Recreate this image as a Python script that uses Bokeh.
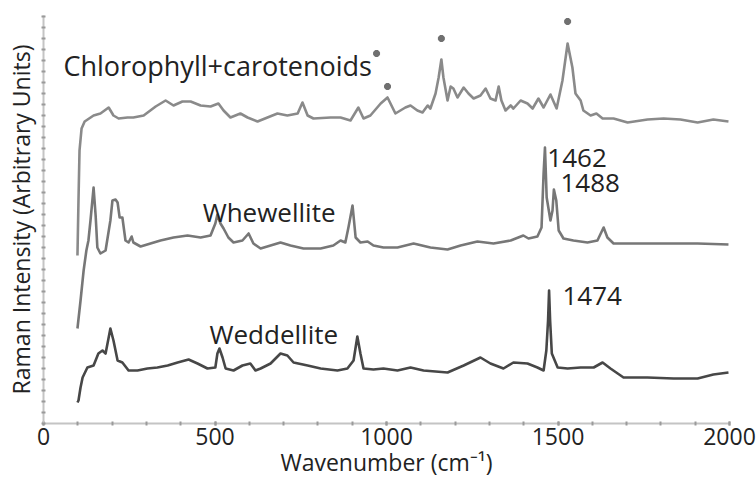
from bokeh.plotting import figure
from bokeh.models import Range1d, FixedTicker, ColumnDataSource
from bokeh.core.properties import value
from bokeh.embed import file_html
from bokeh.resources import INLINE

# Chlorophyll + carotenoids spectrum (wavenumber, arbitrary intensity)
chl_x = [99, 102, 105, 111, 120, 146, 166, 190, 204, 219, 245, 262, 292, 327, 356, 379, 405, 429,
         458, 487, 510, 525, 545, 574, 595, 624, 653, 682, 711, 741, 755, 770, 787, 837, 866, 895,
         918, 933, 953, 983, 1003, 1026, 1055, 1070, 1090, 1105, 1120, 1128, 1143, 1152, 1160, 1166,
         1178, 1187, 1195, 1207, 1225, 1239, 1254, 1274, 1289, 1303, 1318, 1327, 1335, 1347, 1362,
         1370, 1391, 1411, 1426, 1443, 1458, 1478, 1496, 1513, 1528, 1542, 1551, 1566, 1574, 1595,
         1612, 1630, 1662, 1703, 1761, 1808, 1857, 1907, 1953, 1997]
chl_y = [168, 223, 273, 295, 302, 308, 310, 316, 308, 305, 306, 306, 308, 317, 323, 318, 322, 322,
         318, 317, 320, 313, 306, 310, 306, 302, 306, 310, 308, 310, 321, 308, 305, 306, 306, 303,
         316, 305, 308, 320, 326, 310, 316, 318, 313, 311, 318, 315, 330, 346, 364, 346,
         323, 337, 335, 326, 336, 330, 325, 328, 335, 325, 323, 337, 323, 313, 318,
         315, 323, 320, 315, 325, 316, 329, 315, 343, 380, 356, 330, 323, 313, 308,
         310, 305, 305, 301, 304, 305, 304, 301, 304, 302]

# Whewellite spectrum
whe_x = [99, 108, 117, 125, 131, 137, 146, 152, 157, 166, 181, 195, 201, 210, 216, 222, 230, 239,
         248, 257, 262, 283, 312, 341, 379, 420, 458, 487, 501, 507, 516, 525, 539, 554, 580, 598,
         612, 633, 662, 691, 720, 758, 808, 845, 866, 880, 889, 901, 910, 924, 945, 962, 991, 1032,
         1079, 1128, 1178, 1216, 1265, 1312, 1362, 1399, 1414, 1440, 1452, 1458, 1462, 1467, 1478,
         1484, 1488, 1495, 1502, 1516, 1545, 1586, 1615, 1633, 1644, 1662, 1711, 1761, 1857, 1907, 1997]
whe_y = [95, 123, 153, 173, 183, 203, 236, 208, 176, 170, 173, 203, 223, 224, 221, 206, 206, 183,
         181, 187, 181, 177, 180, 183, 186, 188, 186, 188, 200, 209, 200, 195, 186, 181, 183, 190,
         180, 175, 178, 181, 178, 175, 175, 178, 183, 181, 196, 218, 186, 181, 182, 178, 176, 176,
         180, 176, 174, 178, 182, 180, 183, 188, 185, 187, 196, 250, 276, 226, 203,
         213, 234, 223, 193, 185, 183, 181, 183, 196, 186, 180, 180, 180, 180, 180, 179]

# Weddellite spectrum
wed_x = [99, 102, 108, 114, 128, 146, 160, 172, 181, 190, 195, 204, 216, 230, 248, 274, 303, 332,
         362, 391, 423, 449, 478, 501, 507, 513, 522, 531, 554, 580, 603, 618, 633, 662, 691, 711,
         729, 770, 808, 857, 886, 904, 915, 924, 933, 962, 991, 1032, 1070, 1108, 1178, 1225, 1274,
         1303, 1341, 1370, 1411, 1440, 1458, 1466, 1471, 1474, 1477, 1482, 1499, 1528, 1566, 1604,
         1630, 1653, 1691, 1761, 1837, 1907, 1953, 1997]
wed_y = [21, 23, 36, 46, 56, 58, 70, 73, 70, 86, 95, 83, 63, 61, 53, 53, 55, 56,
         58, 61, 64, 60, 55, 56, 70, 75, 66, 55, 53, 58, 60, 53, 55, 60, 70, 68,
         61, 58, 55, 53, 55, 63, 87, 70, 55, 54, 55, 53, 56, 53, 51, 58, 66,
         60, 55, 61, 60, 56, 53, 73, 103, 133, 103, 70, 56, 55, 56, 56,
         61, 55, 46, 46, 45, 45, 49, 51]

# Asterisk markers (carotenoid bands)
star_x = [971, 1003, 1160, 1528]
star_y = [370, 337, 385, 402]

# Text annotations
label_text = ["Chlorophyll+carotenoids", "Whewellite", "Weddellite", "1462", "1488", "1474"]
label_x = [58, 464, 484, 1469, 1507, 1513]
label_y = [358, 212, 90, 266, 241, 128]
label_size = ["27px", "26px", "26px", "26px", "26px", "26px"]

# Axis ticks
x_major = [0, 500, 1000, 1500, 2000]
x_minor = list(range(0, 2001, 100))
y_minor = list(range(0, 409, 11))

FONT = "Open Sans"

p = figure(width=756, height=484, output_backend="svg", toolbar_location=None,
           x_range=Range1d(0, 2000), y_range=Range1d(0, 408),
           min_border_left=43, min_border_right=27, min_border_top=15, min_border_bottom=61)
p.outline_line_color = None
p.grid.visible = False

p.line(chl_x, chl_y, line_color="#8a8a8a", line_width=2.6, line_join="round")
p.line(whe_x, whe_y, line_color="#777777", line_width=2.6, line_join="round")
p.line(wed_x, wed_y, line_color="#474747", line_width=2.6, line_join="round")

p.scatter(star_x, star_y, marker="asterisk", size=7, line_width=2.5, line_color="#707070")

src = ColumnDataSource(dict(x=label_x, y=label_y, t=label_text, s=label_size))
p.text("x", "y", text="t", source=src, text_font=value(FONT), text_font_size="s",
       text_color="#222222", text_baseline="alphabetic", text_align="left")

p.xaxis.ticker = FixedTicker(ticks=x_major, minor_ticks=x_minor)
p.yaxis.ticker = FixedTicker(ticks=[], minor_ticks=y_minor)

for ax in (p.xaxis, p.yaxis):
    ax.axis_line_color = "#c4c4c4"
    ax.axis_line_width = 2
    ax.major_tick_line_color = "#9a9a9a"
    ax.minor_tick_line_color = "#9a9a9a"
    ax.major_tick_line_width = 2
    ax.minor_tick_line_width = 2
    ax.major_tick_in = 2
    ax.major_tick_out = 2
    ax.minor_tick_in = 2
    ax.minor_tick_out = 2
    ax.major_label_text_font = FONT
    ax.major_label_text_font_size = "23px"
    ax.major_label_text_color = "#222222"
    ax.axis_label_text_font = FONT
    ax.axis_label_text_font_size = "23px"
    ax.axis_label_text_font_style = "normal"
    ax.axis_label_text_color = "#222222"

p.xaxis.axis_label = "Wavenumber (cm\u207b\u00b9)"
p.xaxis.major_label_standoff = 2
p.xaxis.axis_label_standoff = -2
p.yaxis.axis_label = "Raman Intensity (Arbitrary Units)"
p.yaxis.major_label_standoff = 0
p.yaxis.axis_label_standoff = 5

open("out.html", "w").write(file_html(p, INLINE))
